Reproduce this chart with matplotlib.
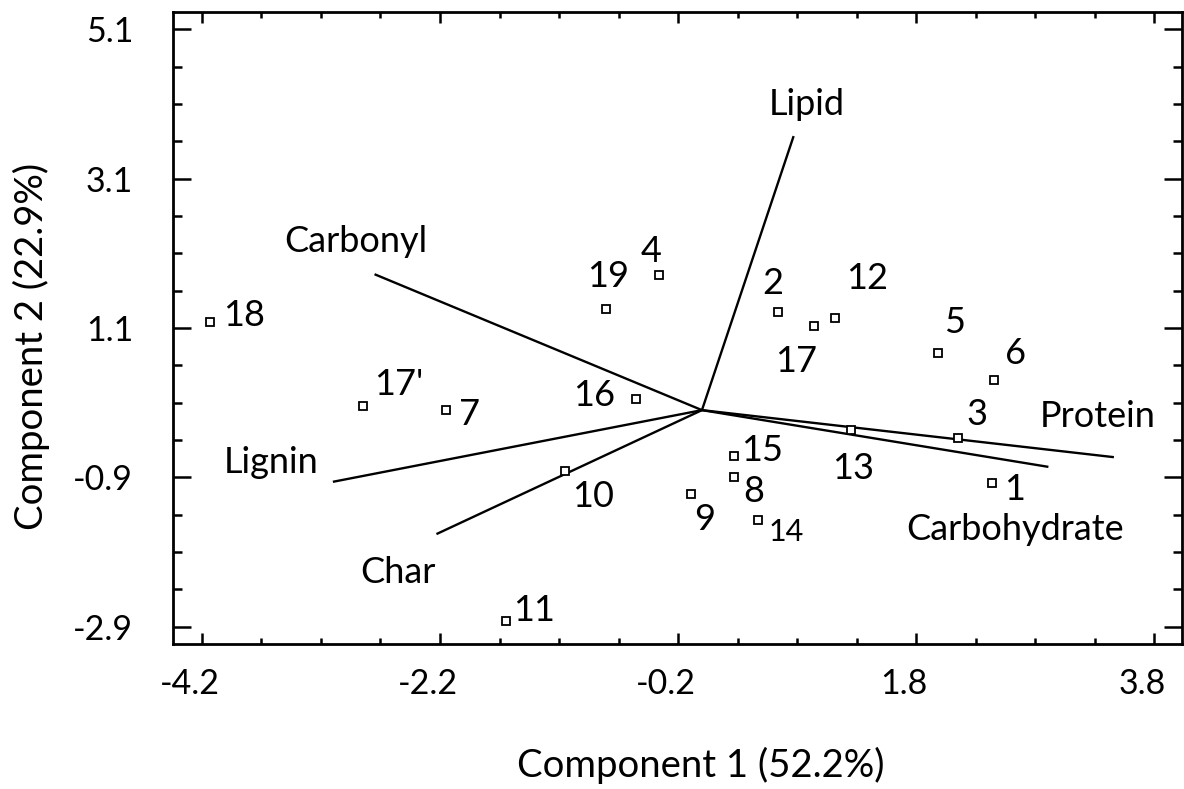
import matplotlib
matplotlib.use("Agg")
import matplotlib.pyplot as plt
from matplotlib import transforms
from matplotlib.ticker import MultipleLocator, FormatStrFormatter

plt.rcParams['font.family'] = ['Lato', 'DejaVu Sans']
plt.rcParams['axes.unicode_minus'] = False

# sample scores on the first two components
sample_ids = ['1', '2', '3', '4', '5', '6', '7', '8', '9', '10',
              '11', '12', '13', '14', '15', '16', '17', "17'", '18', '19']
pc1 = [2.44, 0.64, 2.15, -0.36, 1.98, 2.45, -2.15, 0.27, -0.09, -1.15,
       -1.65, 1.12, 1.25, 0.47, 0.27, -0.55, 0.94, -2.85, -4.13, -0.81]
pc2 = [-0.98, 1.31, -0.37, 1.81, 0.76, 0.40, 0.00, -0.89, -1.12, -0.81,
       -2.83, 1.23, -0.26, -1.47, -0.62, 0.15, 1.12, 0.06, 1.18, 1.36]

# variable loadings (scaled)
variables = ['Protein', 'Carbohydrate', 'Lipid', 'Carbonyl', 'Lignin', 'Char']
load1 = [3.46, 2.91, 0.77, -2.75, -3.10, -2.23]
load2 = [-0.63, -0.76, 3.67, 1.82, -0.96, -1.66]

# where each variable name sits (centre x, baseline y)
var_text_x = [3.32, 2.63, 0.88, -2.91, -3.62, -2.55]
var_text_y = [-0.22, -1.74, 3.95, 2.12, -0.84, -2.31]

# label offsets from each marker, in pixels
label_dx = [12, -16, 8, -18, 6, 11, 13, 9, 3, 7,
            8, 11, -19, 11, 7, -63, -39, 11, 13, -18]
label_dy = [-17, 18, 13, 13, 20, 16, -15, -25, -36, -36,
            0, 29, -49, -21, -5, -7, -46, 11, -4, 22]

fig = plt.figure(figsize=(11.84, 7.89), dpi=100)
ax = fig.add_axes([0.1464, 0.1834, 0.8517, 0.8018])

for x, y in zip(load1, load2):
    ax.plot([0, x], [0, y], color='black', lw=1.7, solid_capstyle='butt', zorder=2)
for name, tx, ty in zip(variables, var_text_x, var_text_y):
    ax.text(tx, ty, name, ha='center', va='baseline', fontsize=26)

ax.plot(pc1, pc2, 's', ms=6.3, mfc='white', mec='black', mew=1.3, zorder=3)
for sid, x, y, dx, dy in zip(sample_ids, pc1, pc2, label_dx, label_dy):
    size = 22 if sid == '14' else 26
    ax.annotate(sid, (x, y), xytext=(dx, dy), textcoords='offset pixels',
                ha='left', va='baseline', fontsize=size)

ax.set_xlim(-4.44, 4.03)
ax.set_ylim(-3.136, 5.336)

ax.xaxis.set_major_locator(MultipleLocator(2, offset=-0.2))
ax.xaxis.set_minor_locator(MultipleLocator(0.5, offset=0.3))
ax.yaxis.set_major_locator(MultipleLocator(2, offset=1.1))
ax.yaxis.set_minor_locator(MultipleLocator(0.5, offset=0.1))
ax.xaxis.set_major_formatter(FormatStrFormatter('%.1f'))
ax.yaxis.set_major_formatter(FormatStrFormatter('%.1f'))

ax.tick_params(which='both', direction='in', top=True, right=True,
               width=1.8, labelsize=24.5)
ax.tick_params(axis='x', which='major', length=8, pad=17)
ax.tick_params(axis='x', which='minor', length=4.3)
ax.tick_params(axis='y', which='major', length=13, pad=29)
ax.tick_params(axis='y', which='minor', length=6.5)
for s in ax.spines.values():
    s.set_linewidth(2.0)

shift = transforms.ScaledTranslation(-12 / 100, 0, fig.dpi_scale_trans)
for lab in ax.get_xticklabels():
    lab.set_transform(lab.get_transform() + shift)

ax.set_xlabel('Component 1 (52.2%)', fontsize=27.5)
ax.set_ylabel('Component 2 (22.9%)', fontsize=27.5)
ax.xaxis.set_label_coords(0.523, -0.162)
ax.yaxis.set_label_coords(-0.122, 0.4716)

fig.savefig('out.png', dpi=100)
